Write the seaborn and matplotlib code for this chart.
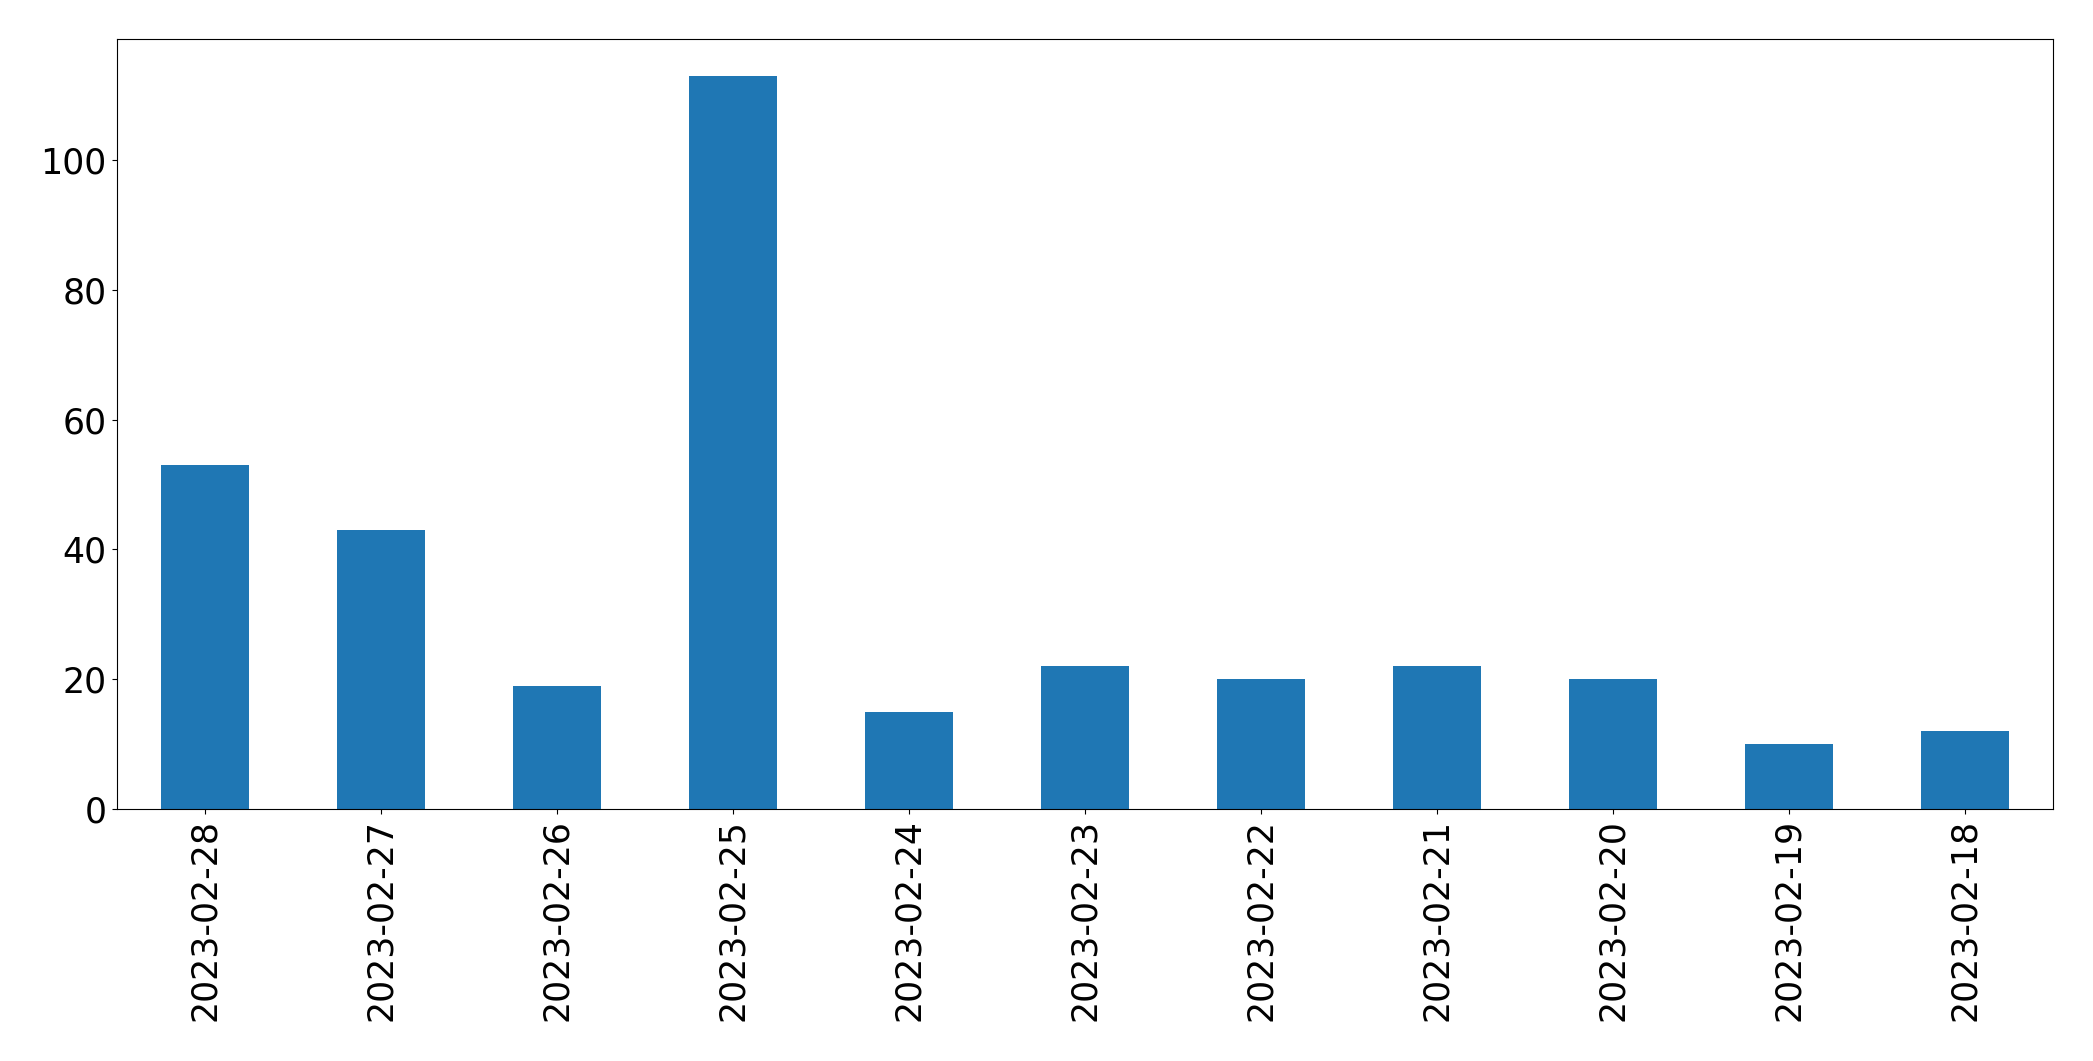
import matplotlib
matplotlib.use("Agg")
import matplotlib.pyplot as plt
import seaborn as sns
import pandas as pd

dates = ['2023-02-28', '2023-02-27', '2023-02-26', '2023-02-25', '2023-02-24',
         '2023-02-23', '2023-02-22', '2023-02-21', '2023-02-20', '2023-02-19',
         '2023-02-18']
counts = [53, 43, 19, 113, 15, 22, 20, 22, 20, 10, 12]

df = pd.DataFrame({'date': dates, 'count': counts})

plt.rcParams['font.family'] = ['DejaVu Sans']
fig, ax = plt.subplots(figsize=(20.93, 10.61), dpi=100)
fig.subplots_adjust(left=0.0557, right=0.9809, top=0.9632, bottom=0.2375)

sns.barplot(data=df, x='date', y='count', order=dates, color='#1f77b4',
            saturation=1, width=0.5, ax=ax)

ax.set_xlim(-0.5, len(dates) - 0.5)
ax.set_ylim(0, max(counts) * 1.05)
ax.set_xlabel('')
ax.set_ylabel('')
ax.tick_params(axis='both', labelsize=25)
ax.tick_params(axis='x', labelrotation=90)

fig.savefig('out.png', dpi=100)
